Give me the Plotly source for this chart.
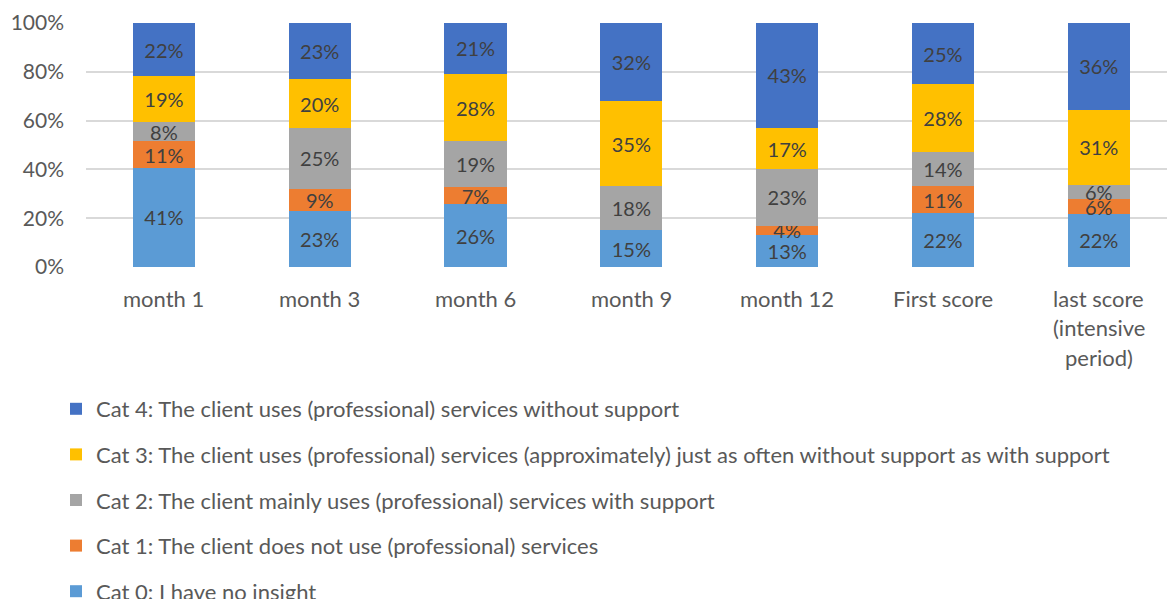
import plotly.graph_objects as go

categories = ["month 1", "month 3", "month 6", "month 9", "month 12", "First score",
              "last score<br>(intensive<br>period)"]

cat0 = [41, 23, 26, 15, 13, 22, 22]
cat1 = [11, 9, 7, None, 4, 11, 6]
cat2 = [8, 25, 19, 18, 23, 14, 6]
cat3 = [19, 20, 28, 35, 17, 28, 31]
cat4 = [22, 23, 21, 32, 43, 25, 36]

series_names = [
    "Cat 0: I have no insight",
    "Cat 1: The client does not use (professional) services",
    "Cat 2: The client mainly uses (professional) services with support",
    "Cat 3: The client uses (professional) services (approximately) just as often without support as with support",
    "Cat 4: The client uses (professional) services without support",
]
series_values = [cat0, cat1, cat2, cat3, cat4]
series_colors = ["#5B9BD5", "#ED7D31", "#A5A5A5", "#FFC000", "#4472C4"]

y_ticks = [0, 20, 40, 60, 80, 100]

FONT = "Lato"
LABEL_COLOR = "#404040"
AXIS_COLOR = "#595959"
FS = 20
CAT_FS = 22
YTICK_FS = 21
LEGEND_FS = 22

fig = go.Figure()
x_idx = list(range(len(categories)))
n = len(series_names)
for k, (name, vals, color) in enumerate(zip(series_names, series_values, series_colors)):
    fig.add_trace(go.Bar(
        x=x_idx,
        y=vals,
        name=name,
        legendgroup=name,
        legendrank=n - k,
        marker=dict(color=color, line=dict(width=0)),
        text=[f"{v}%" if v else "" for v in vals],
        textposition="inside",
        insidetextanchor="middle",
        textangle=0,
        textfont=dict(family=FONT, size=FS, color=LABEL_COLOR),
        hoverinfo="skip",
    ))

# category labels under the bars, one annotation per line
for i, cat in enumerate(categories):
    for j, line in enumerate(cat.split("<br>")):
        fig.add_annotation(
            x=i, y=0, xref="x", yref="paper",
            text=line, showarrow=False,
            yanchor="middle", xanchor="center",
            yshift=-(31 + j * 29.5),
            font=dict(family=FONT, size=CAT_FS, color=AXIS_COLOR),
        )

fig.update_layout(
    width=1167, height=599,
    margin=dict(l=86, r=0, t=23, b=332, autoexpand=False),
    barmode="stack",
    barnorm="percent",
    bargap=0.6,
    plot_bgcolor="white",
    paper_bgcolor="white",
    uniformtext=dict(minsize=FS, mode="show"),
    font=dict(family=FONT, size=FS, color=AXIS_COLOR),
    xaxis=dict(
        range=[-0.5, 6.438],
        showticklabels=False,
        showgrid=False,
        zeroline=False,
        showline=False,
        ticks="",
    ),
    yaxis=dict(
        range=[0, 100],
        tickmode="array",
        tickvals=y_ticks,
        ticktext=[f"{v}%" for v in y_ticks],
        showgrid=True,
        gridcolor="#D9D9D9",
        gridwidth=1.5,
        zeroline=False,
        showline=False,
        ticks="",
        ticklabelstandoff=21,
        tickfont=dict(family=FONT, size=YTICK_FS, color=AXIS_COLOR),
    ),
    legend=dict(
        orientation="v",
        traceorder="grouped",
        tracegroupgap=14,
        xref="container", yref="container",
        x=0.048, y=1 - 388 / 599,
        xanchor="left", yanchor="top",
        font=dict(family=FONT, size=LEGEND_FS, color=AXIS_COLOR),
        itemclick=False,
        bgcolor="rgba(0,0,0,0)",
    ),
    showlegend=True,
)

fig.write_html("out.html")
